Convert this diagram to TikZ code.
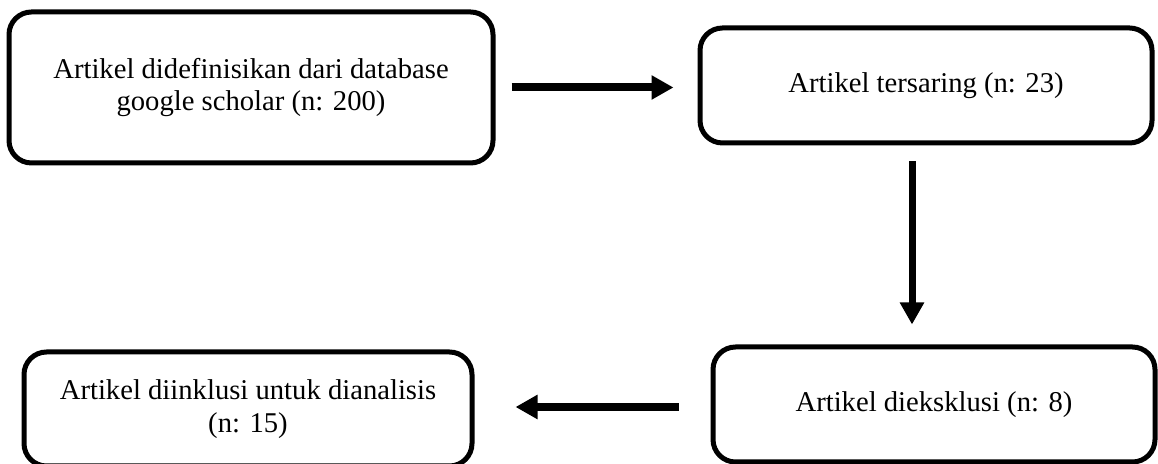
\documentclass[tikz,border=0pt]{standalone}
\usepackage{fontspec}
\setmainfont{Liberation Serif}
\usetikzlibrary{arrows.meta}

\begin{document}
\begin{tikzpicture}[
    thick,
    box/.style = {draw, line width=0.1cm, rounded corners=0.45cm, align=center,
                  font=\fontsize{16.3}{18.5}\selectfont},
    flow/.style = {line width=0.16cm, -{Triangle[length=0.44cm, width=0.46cm]}}
]

\clip (0,0) rectangle (23.16,9.28);

% Boxes
\node[box, minimum width=9.68cm, minimum height=3.02cm] (1) at (5.02,7.53)
    {Artikel didefinisikan dari database\\google scholar (n: 200)};
\node[box, minimum width=9.04cm, minimum height=2.30cm] (2) at (18.52,7.57)
    {Artikel tersaring (n: 23)};
\node[box, minimum width=8.84cm, minimum height=2.30cm] (3) at (18.68,1.19)
    {Artikel dieksklusi (n: 8)};
\node[box, minimum width=8.96cm, minimum height=2.28cm] (4) at (4.96,1.10)
    {Artikel diinklusi untuk dianalisis\\(n: 15)};

% Arrows
\draw[flow, shorten <=0.32cm, shorten >=0.48cm]
    (1.east) -- (1.east -| 2.west);
\draw[flow, line width=0.14cm, shorten <=0.32cm, shorten >=0.4cm]
    ([xshift=-0.28cm]2.south) -- ([xshift=-0.28cm]2.south |- 3.north);
\draw[flow, shorten <=0.64cm, shorten >=0.82cm]
    ([yshift=-0.05cm]3.west) -- ([yshift=-0.05cm]3.west -| 4.east);

\end{tikzpicture}
\end{document}
